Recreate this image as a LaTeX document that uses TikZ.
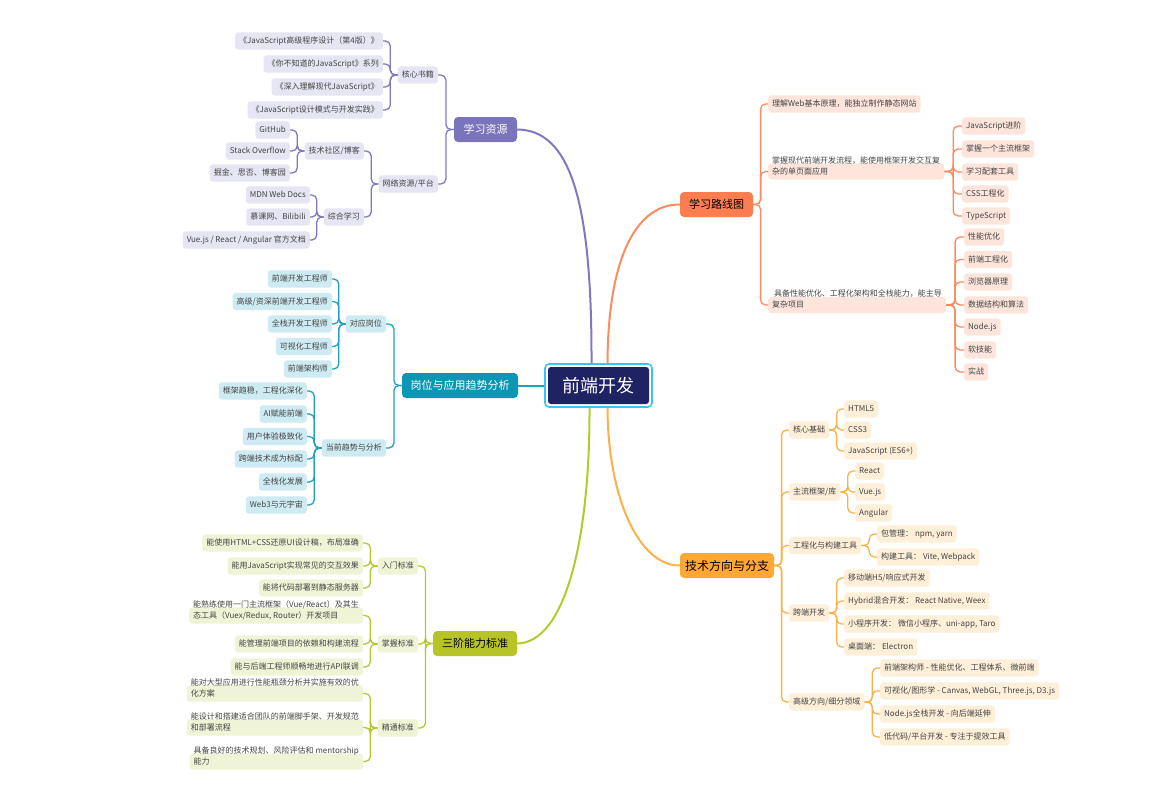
\documentclass[tikz,border=0pt]{standalone}
\usepackage{fontspec}
\setmainfont{Noto Sans CJK SC}
\usetikzlibrary{calc}

\definecolor{rootnavy}{HTML}{1F2363}
\definecolor{rootring}{HTML}{3CC3F3}
\definecolor{purpmain}{HTML}{7A74BC}
\definecolor{purpline}{HTML}{7F79C1}
\definecolor{purpleaf}{HTML}{E6E5F3}
\definecolor{coralmain}{HTML}{FC7D50}
\definecolor{coralline}{HTML}{FC8B60}
\definecolor{coralleaf}{HTML}{FEE5DB}
\definecolor{tealmain}{HTML}{0B96B3}
\definecolor{tealline}{HTML}{1DA2BF}
\definecolor{tealleaf}{HTML}{CEEAF2}
\definecolor{ambermain}{HTML}{FFA835}
\definecolor{amberline}{HTML}{FCB148}
\definecolor{amberleaf}{HTML}{FEEFD9}
\definecolor{limemain}{HTML}{B6C525}
\definecolor{limeline}{HTML}{B6C92C}
\definecolor{limeleaf}{HTML}{F0F4D7}
\definecolor{leaftext}{HTML}{444444}

\tikzset{
	leaf/.style={rounded corners=3pt, inner xsep=4pt, inner ysep=4.5pt, text height=6.6pt, text depth=1.6pt, text=leaftext, font=\fontsize{8}{10}\selectfont},
	twoline/.style={rounded corners=3pt, inner xsep=4pt, inner ysep=4pt, align=left, text=leaftext, font=\fontsize{8}{11}\selectfont},
	mainbox/.style={rounded corners=4pt, minimum height=25pt, inner xsep=2pt, font=\fontsize{11}{13}\selectfont},
	link/.style={line width=1.3pt, rounded corners=5pt},
	branch/.style={line width=2pt},
}

\begin{document}
\begin{tikzpicture}[x=1pt,y=-1pt]
		\useasboundingbox (0,0) rectangle (1173,798);
		% centre
		\node [draw=rootring, line width=1.6pt, fill=white, rounded corners=4pt, minimum width=107, minimum height=43] (root) at (598.5,385.5) {};
		\node [fill=rootnavy, rounded corners=3pt, minimum width=101, minimum height=37, text=white, font=\fontsize{18}{20}\selectfont] (rootin) at (root.center) {前端开发};
		% main branches
		\node [mainbox, fill=purpmain, text=white, minimum width=63] (res) at (485.5,129.5) {学习资源};
		\node [mainbox, fill=tealmain, text=white, minimum width=116] (job) at (460,385.5) {岗位与应用趋势分析};
		\node [mainbox, fill=limemain, minimum width=84] (std) at (475,643.5) {三阶能力标准};
		\node [mainbox, fill=coralmain, minimum width=73] (road) at (716.5,204.5) {学习路线图};
		\node [mainbox, fill=ambermain, minimum width=94, font=\fontsize{12}{14}\selectfont] (tech) at (727,565.5) {技术方向与分支};
		\draw [branch, purpline] (res.east) .. controls (570,130) and (592,200) .. ([xshift=-7]root.north);
		\draw [branch, coralline] (road.west) .. controls (640,204) and (608,250) .. ([xshift=9]root.north);
		\draw [branch, limeline] (std.east) .. controls (565,643) and (590,540) .. ([xshift=-9]root.south);
		\draw [branch, amberline] (tech.west) .. controls (640,566) and (608,500) .. ([xshift=9]root.south);
		\draw [branch, tealline] (job.east) -- (root.west);

		% 学习资源
		\begin{scope}[every node/.style={leaf, fill=purpleaf, anchor=east}]
		\node (books) at (438,75) {核心书籍};
		\node (web) at (438,184) {网络资源/平台};
		\node (b1) at (383,41) {《JavaScript高级程序设计（第4版）》};
		\node (b2) at (383,64) {《你不知道的JavaScript》系列};
		\node (b3) at (383,87) {《深入理解现代JavaScript》};
		\node (b4) at (383,110) {《JavaScript设计模式与开发实践》};
		\node (comm) at (364,151) {技术社区/博客};
		\node (study) at (364,217) {综合学习};
		\node (c1) at (290,130) {GitHub};
		\node (c2) at (290,151) {Stack Overflow};
		\node (c3) at (290,173) {掘金、思否、博客园};
		\node (s1) at (310,195) {MDN Web Docs};
		\node (s2) at (310,217) {慕课网、Bilibili};
		\node (s3) at (310,240) {Vue.js / React / Angular 官方文档};
		\end{scope}
		\foreach \pa/\ch in {res/books,res/web,books/b1,books/b2,books/b3,books/b4,web/comm,web/study,comm/c1,comm/c2,comm/c3,study/s1,study/s2,study/s3}
			\draw [link, purpline] (\pa.west) -- ($(\pa.west)!.5!(\pa.west -| \ch.east)$) |- (\ch.east);

		% 岗位与应用趋势分析
		\begin{scope}[every node/.style={leaf, fill=tealleaf, anchor=east}]
		\node (post) at (386,324) {对应岗位};
		\node (trend) at (386,448) {当前趋势与分析};
		\node (p1) at (332,279) {前端开发工程师};
		\node (p2) at (332,301.5) {高级/资深前端开发工程师};
		\node (p3) at (332,324) {全栈开发工程师};
		\node (p4) at (332,346.5) {可视化工程师};
		\node (p5) at (332,369) {前端架构师};
		\node (t1) at (307,391) {框架趋稳，工程化深化};
		\node (t2) at (307,414) {AI赋能前端};
		\node (t3) at (307,436.5) {用户体验极致化};
		\node (t4) at (307,459) {跨端技术成为标配};
		\node (t5) at (307,482) {全栈化发展};
		\node (t6) at (307,505) {Web3与元宇宙};
		\end{scope}
		\foreach \pa/\ch in {job/post,job/trend,post/p1,post/p2,post/p3,post/p4,post/p5,trend/t1,trend/t2,trend/t3,trend/t4,trend/t5,trend/t6}
			\draw [link, tealline] (\pa.west) -- ($(\pa.west)!.5!(\pa.west -| \ch.east)$) |- (\ch.east);

		% 三阶能力标准
		\begin{scope}[every node/.style={leaf, fill=limeleaf, anchor=east}]
		\node (entry) at (418,566) {入门标准};
		\node (master) at (418,644) {掌握标准};
		\node (expert) at (418,728) {精通标准};
		\node (e1) at (363,543) {能使用HTML+CSS还原UI设计稿，布局准确};
		\node (e2) at (363,566) {能用JavaScript实现常见的交互效果};
		\node (e3) at (363,588) {能将代码部署到静态服务器};
		\node [twoline, fill=limeleaf] (m1) at (363,615.5) {能熟练使用一门主流框架（Vue/React）及其生\\态工具（Vuex/Redux, Router）开发项目};
		\node (m2) at (363,644) {能管理前端项目的依赖和构建流程};
		\node (m3) at (363,667) {能与后端工程师顺畅地进行API联调};
		\node [twoline, fill=limeleaf] (x1) at (363,693.5) {能对大型应用进行性能瓶颈分析并实施有效的优\\化方案};
		\node [twoline, fill=limeleaf] (x2) at (363,727.5) {能设计和搭建适合团队的前端脚手架、开发规范\\和部署流程};
		\node [twoline, fill=limeleaf] (x3) at (363,761.5) {具备良好的技术规划、风险评估和 mentorship\\能力};
		\end{scope}
		\foreach \pa/\ch in {std/entry,std/master,std/expert,entry/e1,entry/e2,entry/e3,master/m1,master/m2,master/m3,expert/x1,expert/x2,expert/x3}
			\draw [link, limeline] (\pa.west) -- ($(\pa.west)!.5!(\pa.west -| \ch.east)$) |- (\ch.east);

		% 学习路线图
		\begin{scope}[every node/.style={leaf, fill=coralleaf, anchor=west}]
		\node (r1) at (768,104) {理解Web基本原理，能独立制作静态网站};
		\node [twoline, fill=coralleaf] (r2) at (768,171.5) {掌握现代前端开发流程，能使用框架开发交互复\\杂的单页面应用};
		\node [twoline, fill=coralleaf] (r3) at (768,305) {\ 具备性能优化、工程化架构和全栈能力，能主导\\复杂项目};
		\node (q1) at (962,126) {JavaScript进阶};
		\node (q2) at (962,149) {掌握一个主流框架};
		\node (q3) at (962,172) {学习配套工具};
		\node (q4) at (962,194) {CSS工程化};
		\node (q5) at (962,216) {TypeScript};
		\node (a1) at (964,237) {性能优化};
		\node (a2) at (964,259.5) {前端工程化};
		\node (a3) at (964,282) {浏览器原理};
		\node (a4) at (964,305) {数据结构和算法};
		\node (a5) at (964,327) {Node.js};
		\node (a6) at (964,350) {软技能};
		\node (a7) at (964,372) {实战};
		\end{scope}
		\foreach \pa/\ch in {road/r1,road/r2,road/r3,r2/q1,r2/q2,r2/q3,r2/q4,r2/q5,r3/a1,r3/a2,r3/a3,r3/a4,r3/a5,r3/a6,r3/a7}
			\draw [link, coralline] (\pa.east) -- ($(\pa.east)!.5!(\pa.east -| \ch.west)$) |- (\ch.west);

		% 技术方向与分支
		\begin{scope}[every node/.style={leaf, fill=amberleaf, anchor=west}]
		\node (k1) at (789,430) {核心基础};
		\node (k2) at (789,492) {主流框架/库};
		\node (k3) at (789,545.5) {工程化与构建工具};
		\node (k4) at (789,613) {跨端开发};
		\node (k5) at (789,702) {高级方向/细分领域};
		\node (f1) at (844,409) {HTML5};
		\node (f2) at (844,430) {CSS3};
		\node (f3) at (844,451) {JavaScript (ES6+)};
		\node (g1) at (855,471) {React};
		\node (g2) at (855,492) {Vue.js};
		\node (g3) at (855,513) {Angular};
		\node (h1) at (877,534) {包管理： npm, yarn};
		\node (h2) at (877,557) {构建工具： Vite, Webpack};
		\node (u1) at (844,578) {移动端H5/响应式开发};
		\node (u2) at (844,601) {Hybrid混合开发： React Native, Weex};
		\node (u3) at (844,624) {小程序开发： 微信小程序、uni-app, Taro};
		\node (u4) at (844,647) {桌面端： Electron};
		\node (v1) at (880,668) {前端架构师 - 性能优化、工程体系、微前端};
		\node (v2) at (880,691) {可视化/图形学 - Canvas, WebGL, Three.js, D3.js};
		\node (v3) at (880,714) {Node.js全栈开发 - 向后端延伸};
		\node (v4) at (880,737) {低代码/平台开发 - 专注于提效工具};
		\end{scope}
		\foreach \pa/\ch in {tech/k1,tech/k2,tech/k3,tech/k4,tech/k5,k1/f1,k1/f2,k1/f3,k2/g1,k2/g2,k2/g3,k3/h1,k3/h2,k4/u1,k4/u2,k4/u3,k4/u4,k5/v1,k5/v2,k5/v3,k5/v4}
			\draw [link, amberline] (\pa.east) -- ($(\pa.east)!.5!(\pa.east -| \ch.west)$) |- (\ch.west);
\end{tikzpicture}
\end{document}
